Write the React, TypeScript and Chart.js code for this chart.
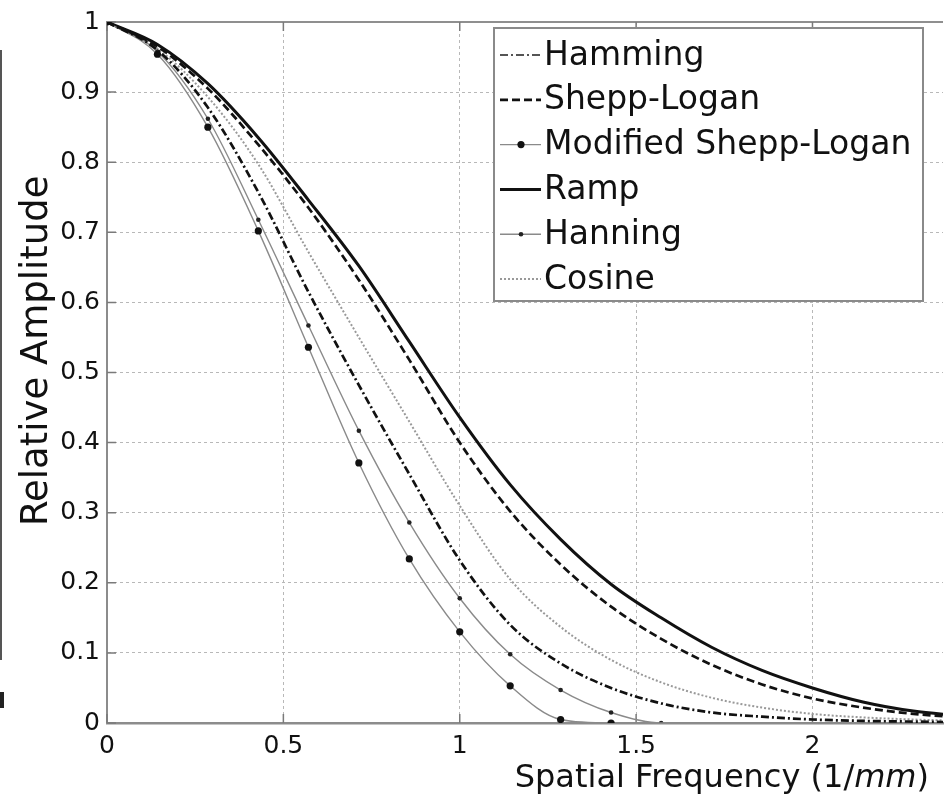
import React, { useEffect, useRef } from "react";
import { Chart, registerables } from "chart.js";

Chart.register(...registerables);

// Spatial frequency samples (1/mm)
const freq = [0, 0.143, 0.286, 0.429, 0.571, 0.714, 0.857, 1.0, 1.143, 1.286, 1.429, 1.571, 1.714, 1.857, 2.0, 2.143, 2.286, 2.429];

// Relative amplitude series
const hamming = [1, 0.96, 0.878, 0.757, 0.615, 0.482, 0.355, 0.232, 0.14, 0.085, 0.05, 0.028, 0.015, 0.009, 0.005, 0.003, 0.002, 0.001];
const sheppLogan = [1, 0.965, 0.905, 0.825, 0.735, 0.632, 0.518, 0.4, 0.302, 0.226, 0.166, 0.12, 0.083, 0.055, 0.035, 0.022, 0.013, 0.008];
const modifiedSheppLogan = [1, 0.954, 0.85, 0.702, 0.536, 0.371, 0.234, 0.13, 0.053, 0.005, 0, 0, 0, 0, 0, 0, 0, 0];
const ramp = [1, 0.968, 0.912, 0.835, 0.746, 0.652, 0.544, 0.436, 0.34, 0.262, 0.198, 0.15, 0.108, 0.075, 0.05, 0.03, 0.017, 0.01];
const hanning = [1, 0.958, 0.862, 0.718, 0.567, 0.417, 0.286, 0.178, 0.098, 0.047, 0.015, 0, 0, 0, 0, 0, 0, 0];
const cosine = [1, 0.962, 0.893, 0.797, 0.672, 0.55, 0.43, 0.31, 0.205, 0.137, 0.09, 0.058, 0.036, 0.022, 0.013, 0.008, 0.005, 0.003];

const seriesNames = ["Hamming", "Shepp-Logan", "Modified Shepp-Logan", "Ramp", "Hanning", "Cosine"];

const xTicks = [0, 0.5, 1, 1.5, 2];
const yTicks = [0, 0.1, 0.2, 0.3, 0.4, 0.5, 0.6, 0.7, 0.8, 0.9, 1];

const xTitle = ["Spatial Frequency (1/", "mm", ")"];
const yTitle = "Relative Amplitude";

const FONT = "'DejaVu Sans', 'Liberation Sans', Arial, sans-serif";

function fmt(v: number) {
  return String(Number(v.toFixed(2)));
}

function pts(values: number[]) {
  return freq.map((x, i) => ({ x, y: values[i] }));
}

function markerRadius(values: number[], r: number) {
  return (ctx: any) => {
    const i = ctx.dataIndex;
    if (i > 0 && values[i] === 0 && values[i - 1] === 0) return 0;
    return r;
  };
}

const framePlugin = {
  id: "frame",
  beforeDatasetsDraw(chart: any) {
    const { ctx, chartArea, scales } = chart;
    ctx.save();
    ctx.strokeStyle = "#8f8f8f";
    ctx.lineWidth = 2;
    ctx.setLineDash([]);
    ctx.beginPath();
    ctx.moveTo(chartArea.left, chartArea.top);
    ctx.lineTo(chartArea.right, chartArea.top);
    ctx.stroke();
    ctx.strokeStyle = "#7a7a7a";
    ctx.lineWidth = 1.5;
    ctx.beginPath();
    for (const t of yTicks) {
      const y = scales.y.getPixelForValue(t);
      ctx.moveTo(chartArea.left, y);
      ctx.lineTo(chartArea.left + 9, y);
    }
    for (const t of xTicks) {
      const x = scales.x.getPixelForValue(t);
      ctx.moveTo(x, chartArea.bottom);
      ctx.lineTo(x, chartArea.bottom - 9);
      ctx.moveTo(x, chartArea.top);
      ctx.lineTo(x, chartArea.top + 9);
    }
    ctx.stroke();
    ctx.restore();
  },
};

const legendPlugin = {
  id: "boxLegend",
  afterDatasetsDraw(chart: any) {
    const { ctx, chartArea } = chart;
    const left = chartArea.left + 387;
    const top = chartArea.top + 6;
    const w = 429;
    const h = 273;
    ctx.save();
    ctx.fillStyle = "#ffffff";
    ctx.fillRect(left, top, w, h);
    ctx.strokeStyle = "#8a8a8a";
    ctx.lineWidth = 2;
    ctx.setLineDash([]);
    ctx.strokeRect(left, top, w, h);
    chart.data.datasets.forEach((ds: any, i: number) => {
      const y = top + 27 + i * 44.8;
      ctx.save();
      ctx.strokeStyle = ds.legendColor || ds.borderColor;
      ctx.lineWidth = ds.legendWidth || ds.borderWidth;
      ctx.setLineDash(ds.borderDash || []);
      ctx.beginPath();
      ctx.moveTo(left + 6, y);
      ctx.lineTo(left + 47, y);
      ctx.stroke();
      if (ds.legendMarker) {
        ctx.fillStyle = ds.pointBackgroundColor;
        ctx.beginPath();
        ctx.arc(left + 27, y, ds.legendMarker, 0, Math.PI * 2);
        ctx.fill();
      }
      ctx.restore();
      ctx.fillStyle = "#111";
      ctx.font = `33px ${FONT}`;
      ctx.textAlign = "left";
      ctx.textBaseline = "middle";
      ctx.fillText(ds.label, left + 50, y + 1);
    });
    ctx.restore();
  },
};

const titlesPlugin = {
  id: "axisTitles",
  afterDraw(chart: any) {
    const { ctx, chartArea } = chart;
    ctx.save();
    ctx.fillStyle = "#111";
    ctx.save();
    ctx.translate(chartArea.left - 70, chartArea.top + 0.469 * (chartArea.bottom - chartArea.top));
    ctx.rotate(-Math.PI / 2);
    ctx.font = `37px ${FONT}`;
    ctx.textAlign = "center";
    ctx.textBaseline = "middle";
    ctx.fillText(yTitle, 0, 0);
    ctx.restore();
    const normal = `32px ${FONT}`;
    const italic = `italic 32px ${FONT}`;
    ctx.textBaseline = "alphabetic";
    ctx.textAlign = "left";
    ctx.font = normal;
    const w0 = ctx.measureText(xTitle[0]).width;
    const w2 = ctx.measureText(xTitle[2]).width;
    ctx.font = italic;
    const w1 = ctx.measureText(xTitle[1]).width;
    let x = chartArea.right - 14 - (w0 + w1 + w2);
    const y = chartArea.bottom + 64;
    ctx.font = normal;
    ctx.fillText(xTitle[0], x, y);
    x += w0;
    ctx.font = italic;
    ctx.fillText(xTitle[1], x, y);
    x += w1;
    ctx.font = normal;
    ctx.fillText(xTitle[2], x, y);
    ctx.restore();
  },
};

export default function App() {
  const ref = useRef<HTMLCanvasElement | null>(null);

  useEffect(() => {
    if (!ref.current) return;
    const thin = "#8a8a8a";
    const chart = new Chart(ref.current, {
      type: "line",
      data: {
        datasets: [
          {
            label: seriesNames[0],
            data: pts(hamming),
            borderColor: "#111",
            borderWidth: 2.7,
            borderDash: [8, 3, 2, 3],
            pointRadius: 0,
            legendColor: "#555",
            legendWidth: 2,
            cubicInterpolationMode: "monotone",
          } as any,
          {
            label: seriesNames[1],
            data: pts(sheppLogan),
            borderColor: "#111",
            borderWidth: 2.7,
            borderDash: [8, 4],
            pointRadius: 0,
            cubicInterpolationMode: "monotone",
          },
          {
            label: seriesNames[2],
            data: pts(modifiedSheppLogan),
            borderColor: thin,
            borderWidth: 1.4,
            pointRadius: markerRadius(modifiedSheppLogan, 3.6),
            pointBackgroundColor: "#111",
            pointBorderColor: "#111",
            pointBorderWidth: 0,
            legendMarker: 3.6,
            cubicInterpolationMode: "monotone",
          } as any,
          {
            label: seriesNames[3],
            data: pts(ramp),
            borderColor: "#111",
            borderWidth: 3,
            pointRadius: 0,
            cubicInterpolationMode: "monotone",
          },
          {
            label: seriesNames[4],
            data: pts(hanning),
            borderColor: thin,
            borderWidth: 1.4,
            pointRadius: markerRadius(hanning, 2.3),
            pointBackgroundColor: "#222",
            pointBorderColor: "#222",
            pointBorderWidth: 0,
            legendMarker: 2.3,
            cubicInterpolationMode: "monotone",
          } as any,
          {
            label: seriesNames[5],
            data: pts(cosine),
            borderColor: "#999",
            borderWidth: 2,
            borderDash: [2, 2],
            pointRadius: 0,
            cubicInterpolationMode: "monotone",
          },
        ],
      },
      options: {
        animation: false,
        responsive: false,
        maintainAspectRatio: false,
        events: [],
        layout: { padding: { left: 0, right: 5, top: 21, bottom: 0 } },
        plugins: { legend: { display: false }, tooltip: { enabled: false }, title: { display: false } },
        scales: {
          x: {
            type: "linear",
            min: 0,
            max: 2.37,
            afterFit: (s: any) => {
              s.height = 71;
            },
            afterBuildTicks: (s: any) => {
              s.ticks = xTicks.map((v) => ({ value: v }));
            },
            ticks: {
              includeBounds: false,
              autoSkip: false,
              maxRotation: 0,
              padding: 8,
              color: "#111",
              font: { family: FONT, size: 25 },
              callback: (v: any) => fmt(Number(v)),
            },
            grid: { color: "#b8b8b8", lineWidth: 1, drawTicks: false },
            border: { display: true, color: "#8c8c8c", width: 2.5, dash: [3, 3] },
          },
          y: {
            type: "linear",
            min: 0,
            max: 1,
            afterFit: (s: any) => {
              s.width = 107;
            },
            afterBuildTicks: (s: any) => {
              s.ticks = yTicks.map((v) => ({ value: v }));
            },
            ticks: {
              autoSkip: false,
              padding: 7,
              color: "#111",
              font: { family: FONT, size: 25 },
              callback: (v: any) => fmt(Number(v)),
            },
            grid: { color: "#b8b8b8", lineWidth: 1, drawTicks: false },
            border: { display: true, color: "#8c8c8c", width: 2, dash: [3, 3] },
          },
        },
      },
      plugins: [framePlugin, legendPlugin, titlesPlugin],
    });
    return () => chart.destroy();
  }, []);

  return (
    <div style={{ position: "fixed", left: 0, top: 0, width: 948, height: 794, background: "#fff", overflow: "hidden" }}>
      <canvas ref={ref} width={948} height={794} style={{ display: "block", width: 948, height: 794 }} />
      <div style={{ position: "absolute", left: 0, top: 50, width: 2, height: 610, background: "#555" }} />
      <div style={{ position: "absolute", left: 0, top: 692, width: 4, height: 16, background: "#222" }} />
    </div>
  );
}
